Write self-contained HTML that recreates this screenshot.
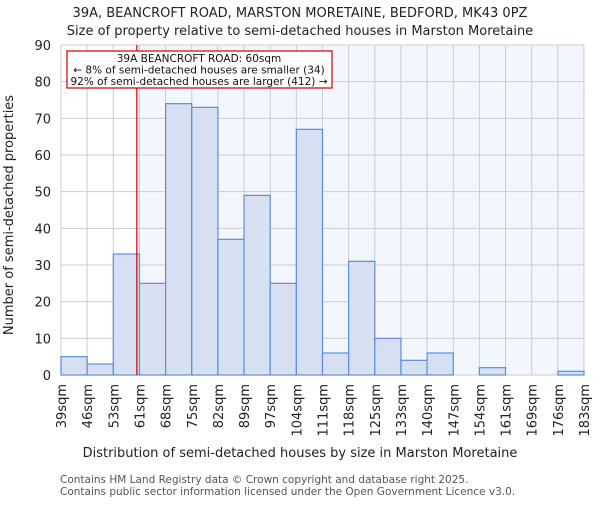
<!DOCTYPE html>
<html><head><meta charset="utf-8"><style>body{margin:0;background:#fff}svg text{font-family:"DejaVu Sans","Liberation Sans",sans-serif}</style></head><body>
<svg id="c" width="600" height="500" xmlns="http://www.w3.org/2000/svg"></svg>
<script>
const labels=["39sqm","46sqm","53sqm","61sqm","68sqm","75sqm","82sqm","89sqm","97sqm","104sqm","111sqm","118sqm","125sqm","133sqm","140sqm","147sqm","154sqm","161sqm","169sqm","176sqm","183sqm"];
const counts=[5,3,33,25,74,73,37,49,25,67,6,31,10,4,6,0,2,0,0,1];
const yTicks=[0,10,20,30,40,50,60,70,80,90];
const markerPos=2.9;
const svg=document.getElementById('c');const NS='http://www.w3.org/2000/svg';
const L=61,R=584,T=45,B=375,n=counts.length,bw=(R-L)/n;
const x=i=>L+i*bw, y=v=>B-(v/90)*(B-T);
function mk(t,a,p){const e=document.createElementNS(NS,t);for(const k in a)e.setAttribute(k,a[k]);(p||svg).appendChild(e);return e;}
let e;
e=mk('rect',{x:x(markerPos),y:T,width:R-x(markerPos),height:B-T,fill:'#f4f6fd'});


yTicks.forEach(v=>{e=mk('line',{x1:L,x2:R,y1:y(v),y2:y(v),stroke:'#cccccc'});


e=mk('text',{x:L-10,y:y(v)+5,'text-anchor':'end','font-size':13,fill:'#222'});e.textContent=v;

});
labels.forEach((l,i)=>{e=mk('line',{x1:x(i),x2:x(i),y1:T,y2:B,stroke:'#cccccc'});


e=mk('text',{transform:`translate(${x(i)+5},384) rotate(-90)`,'text-anchor':'end','font-size':13,fill:'#222'});e.textContent=l;

});
counts.forEach((v,i)=>{e=mk('rect',{x:x(i),y:y(v),width:bw,height:B-y(v),fill:'#d6e0f2',stroke:'#5b8fd6','stroke-width':1.2});

});
e=mk('line',{x1:x(markerPos),x2:x(markerPos),y1:T,y2:B,stroke:'#cc0000','stroke-width':1.2});


e=mk('rect',{x:67,y:51,width:265,height:37,fill:'#fff',stroke:'#cc0000','stroke-width':1.2});


[["39A BEANCROFT ROAD: 60sqm",62],["← 8% of semi-detached houses are smaller (34)",73.5],["92% of semi-detached houses are larger (412) →",85]].forEach(([t,yy])=>{e=mk('text',{x:199,y:yy,'text-anchor':'middle','font-size':10.5,fill:'#111'});e.textContent=t;

});
[["39A, BEANCROFT ROAD, MARSTON MORETAINE, BEDFORD, MK43 0PZ",17,13,'#222'],["Size of property relative to semi-detached houses in Marston Moretaine",35,13,'#222'],["Distribution of semi-detached houses by size in Marston Moretaine",457,13,'#222']].forEach(([t,yy,fs,c],k)=>{e=mk('text',{x:300,y:yy,'text-anchor':'middle','font-size':fs,fill:c});e.textContent=t;

});
e=mk('text',{transform:'translate(13,215) rotate(-90)','text-anchor':'middle','font-size':13,fill:'#222'});e.textContent='Number of semi-detached properties';


[["Contains HM Land Registry data © Crown copyright and database right 2025.",483],["Contains public sector information licensed under the Open Government Licence v3.0.",495]].forEach(([t,yy])=>{e=mk('text',{x:60,y:yy,'font-size':10.5,fill:'#555'});e.textContent=t;

});
</script></body></html>
